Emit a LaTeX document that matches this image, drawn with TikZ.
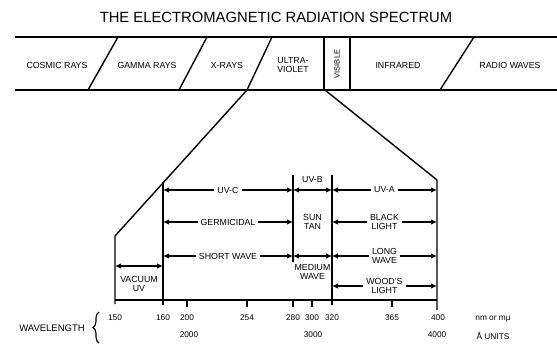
\documentclass[tikz,border=0pt]{standalone}
\usepackage{fontspec}
\setmainfont{Liberation Sans}
\usetikzlibrary{arrows.meta,decorations.pathreplacing}
\begin{document}
\begin{tikzpicture}[x=1pt,y=-1pt,
  ln/.style={line width=1.4pt},
  thin/.style={line width=1.1pt},
  dim/.style={line width=1.2pt,{Latex[length=6pt,width=5.5pt]}-{Latex[length=6pt,width=5.5pt]}},
  lbl/.style={font=\fontsize{8.8}{9.3}\selectfont, align=center, inner sep=1pt},
  blbl/.style={lbl, fill=white, inner xsep=3pt},
  num/.style={font=\fontsize{8.3}{9}\selectfont, inner sep=1pt},
  ttl/.style={font=\fontsize{14.8}{16}\selectfont, inner sep=0pt}]
\useasboundingbox (0,0) rectangle (557,343);
% title
\node[ttl] (title) at (276,17) {THE ELECTROMAGNETIC RADIATION SPECTRUM};
% band
\coordinate (bTL) at (15,37); \coordinate (bTR) at (557,37);
\coordinate (bBL) at (15,90); \coordinate (bBR) at (557,90);
\draw[ln] (bTL) -- (bTR);
\draw[ln] (bBL) -- (bBR);
\coordinate (s1t) at (118,37); \coordinate (s1b) at (88,90);
\coordinate (s2t) at (207,37); \coordinate (s2b) at (179,90);
\coordinate (s3t) at (272,37); \coordinate (s3b) at (247,90);
\coordinate (s4t) at (474,37); \coordinate (s4b) at (440,90);
\coordinate (v1t) at (324,37); \coordinate (v1b) at (324,90);
\coordinate (v2t) at (350,37); \coordinate (v2b) at (350,90);
\draw[ln] (s1t) -- (s1b);
\draw[ln] (s2t) -- (s2b);
\draw[ln] (s3t) -- (s3b);
\draw[ln] (s4t) -- (s4b);
\draw[ln] (v1t) -- (v1b);
\draw[ln] (v2t) -- (v2b);
\node[lbl] (cosmic) at (57,65) {COSMIC RAYS};
\node[lbl] (gamma) at (147,65) {GAMMA RAYS};
\node[lbl] (xrays) at (227,65) {X-RAYS};
\node[lbl] (uv) at (293,65) {ULTRA-\\VIOLET};
\node[lbl, font=\fontsize{7.5}{8}\selectfont, rotate=90] (vis) at (337,64) {VISIBLE};
\node[lbl] (ir) at (398,65) {INFRARED};
\node[lbl] (radio) at (510,65) {RADIO WAVES};
% funnel
\coordinate (fL1) at (115,236);
\coordinate (fL2) at (115,304);
\coordinate (fR0) at (325,90);
\coordinate (fR1) at (437,180);
\coordinate (fR2) at (437,310);
\draw[ln] (s3b) -- (fL1) -- (fL2);
\draw[ln] (fR0) -- (fR1) -- (fR2);
% inner verticals
\coordinate (a160t) at (163,182); \coordinate (a160b) at (163,305);
\coordinate (a280t) at (293,175); \coordinate (a280b) at (293,262);
\coordinate (a320t) at (332,175); \coordinate (a320b) at (332,305);
\draw[ln] (a160t) -- (a160b);
\draw[ln] (a280t) -- (a280b);
\draw[ln] (a320t) -- (a320b);
% axis
\coordinate (ax0) at (115,300); \coordinate (ax1) at (437,300);
\draw[ln] (ax0) -- (ax1);
\foreach \x/\n in {187/t200,247/t254,293/t280,312/t300,392/t365}{
  \coordinate (\n a) at (\x,300); \coordinate (\n b) at (\x,307);
  \draw[thin] (\n a) -- (\n b);
}
% row 1
\coordinate (r1a) at (163,190); \coordinate (r1b) at (293,190);
\coordinate (r1c) at (332,190); \coordinate (r1d) at (437,190);
\draw[dim] (r1a) -- node[blbl] (uvc) {UV-C} (r1b);
\draw[dim] (r1b) -- (r1c);
\draw[dim] (r1c) -- node[blbl] (uva) {UV-A} (r1d);
\node[lbl, fill=white] (uvb) at (312.5,180) {UV-B};
% row 2
\coordinate (r2a) at (163,222); \coordinate (r2b) at (293,222);
\coordinate (r2c) at (332,222); \coordinate (r2d) at (437,222);
\draw[dim] (r2a) -- node[blbl] (germ) {GERMICIDAL} (r2b);
\draw[dim] (r2c) -- node[blbl] (black) {BLACK\\LIGHT} (r2d);
\node[lbl] (suntan) at (312.5,222) {SUN\\TAN};
% row 3
\coordinate (r3a) at (163,256); \coordinate (r3b) at (293,256);
\coordinate (r3c) at (332,256); \coordinate (r3d) at (437,256);
\draw[dim] (r3a) -- node[blbl] (sw) {SHORT WAVE} (r3b);
\draw[dim] (r3b) -- (r3c);
\draw[dim] (r3c) -- node[blbl] (lw) {LONG\\WAVE} (r3d);
\node[lbl] (mw) at (312.5,272) {MEDIUM\\WAVE};
% row 4
\coordinate (r4c) at (332,286); \coordinate (r4d) at (437,286);
\draw[dim] (r4c) -- node[blbl] (wood) {WOOD'S\\LIGHT} (r4d);
% vacuum uv
\coordinate (vua) at (115,266); \coordinate (vub) at (163,266);
\draw[dim] (vua) -- (vub);
\node[lbl] (vac) at (139,284) {VACUUM\\UV};
% numbers
\foreach \x/\t in {115/150,163/160,187/200,247/254,293/280,312/300,332/320,392/365,438/400}{
  \node[num] at (\x,318) {\t};
}
\node[num] (nm) at (493,319) {nm or mμ};
\node[num] (n2000) at (189,335) {2000};
\node[num] (n3000) at (313,335) {3000};
\node[num] (n4000) at (437,335) {4000};
\node[num] (au) at (493,336) {Å UNITS};
\node[lbl, font=\fontsize{9.5}{10}\selectfont] (wl) at (52,328) {WAVELENGTH};
\coordinate (brb) at (99,343); \coordinate (brt) at (99,312);
\draw[thin, decorate, decoration={brace, amplitude=6pt}] (brb) -- (brt);
\end{tikzpicture}
\end{document}
